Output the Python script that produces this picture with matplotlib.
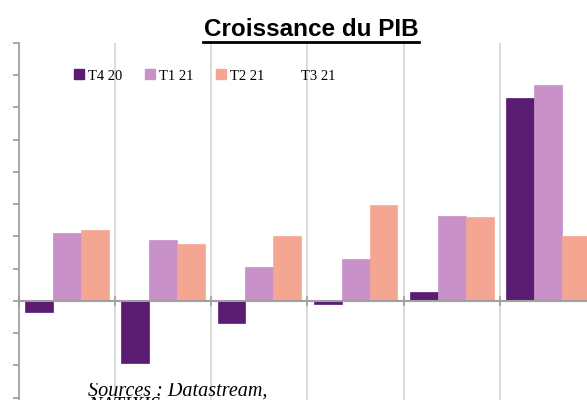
import matplotlib
matplotlib.use("Agg")
import matplotlib.pyplot as plt
import numpy as np
from matplotlib.patches import Patch
from matplotlib.transforms import Bbox, TransformedBbox, IdentityTransform

series = ["T4 20", "T1 21", "T2 21", "T3 21"]
t4_20 = [-0.33, -1.92, -0.67, -0.10, 0.27, 6.30]
t1_21 = [2.10, 1.88, 1.04, 1.29, 2.65, 6.71]
t2_21 = [2.19, 1.76, 2.00, 2.99, 2.59, 2.00]
colors = ["#591C71", "#C891C8", "#F4A692"]

W, H = 587, 400
fig = plt.figure(figsize=(W / 100, H / 100), dpi=100)
left, right, top, bottom = 19, 596, 43, 400
ax = fig.add_axes([left / W, 1 - bottom / H, (right - left) / W, (bottom - top) / H])

n = len(t4_20)
x = np.arange(n)
bw = 0.29
for i, (vals, c) in enumerate(zip([t4_20, t1_21, t2_21], colors)):
    ax.bar(x + (i - 1) * bw, vals, width=bw, color=c, edgecolor=c, linewidth=0.5, zorder=3)

ax.set_xlim(-0.5, n - 0.5)
ax.set_ylim(-3.07, 8)

# gridlines at category boundaries
for b in np.arange(0.5, n, 1.0):
    ax.axvline(b, color="#d4d4d4", lw=1.2, zorder=1)

for s in ["top", "right"]:
    ax.spines[s].set_visible(False)
ax.spines["left"].set_color("#9a9a9a")
ax.spines["left"].set_linewidth(1.2)
ax.spines["bottom"].set_position(("data", 0))
ax.spines["bottom"].set_color("#a0a0a0")
ax.spines["bottom"].set_linewidth(1.5)
ax.spines["bottom"].set_zorder(4)

ax.set_yticks(np.arange(-3, 9, 1))
ax.set_yticklabels([])
ax.tick_params(axis="y", direction="out", length=4, color="#9a9a9a", width=1.2)
ax.set_xticks(np.arange(-0.5, n, 1.0))
ax.set_xticklabels([])
ax.set_xticks(x, minor=True)
ax.tick_params(axis="x", which="major", direction="inout", length=7, color="#a0a0a0", width=1.2)
ax.tick_params(axis="x", which="minor", direction="in", length=3, color="#a0a0a0", width=1.2)

# title
fig.text(311 / W, 1 - 36 / H, "Croissance du PIB", ha="center", va="baseline",
         fontsize=17.5, fontweight="bold", family="Liberation Sans")
fig.add_artist(plt.Line2D([203 / W, 419 / W], [1 - 41.5 / H, 1 - 41.5 / H], color="black", lw=2))

# legend
handles = [Patch(facecolor=c, edgecolor=c) for c in colors] + [Patch(facecolor="none", edgecolor="none")]
leg = fig.legend(handles, series, loc="center left", bbox_to_anchor=(74 / W, 1 - 76 / H),
                 ncol=4, frameon=False, prop={"family": "Liberation Serif", "size": 10.5},
                 handlelength=0.68, handleheight=0.68, handletextpad=0.3, columnspacing=1.52,
                 borderpad=0, borderaxespad=0)

# source text
clip = TransformedBbox(Bbox.from_bounds(0, 0, W, 17), IdentityTransform())
t1 = fig.text(88 / W, 1 - 396 / H, "Sources : Datastream,", ha="left", va="baseline",
              fontsize=14.5, style="italic", family="Liberation Serif")
t1.set_clip_box(clip)
t1.set_clip_on(True)
t2 = fig.text(88 / W, 1 - 397 / H, "NATIXIS", ha="left", va="top",
              fontsize=14.5, style="italic", family="Liberation Serif")

fig.savefig("out.png", dpi=100)
